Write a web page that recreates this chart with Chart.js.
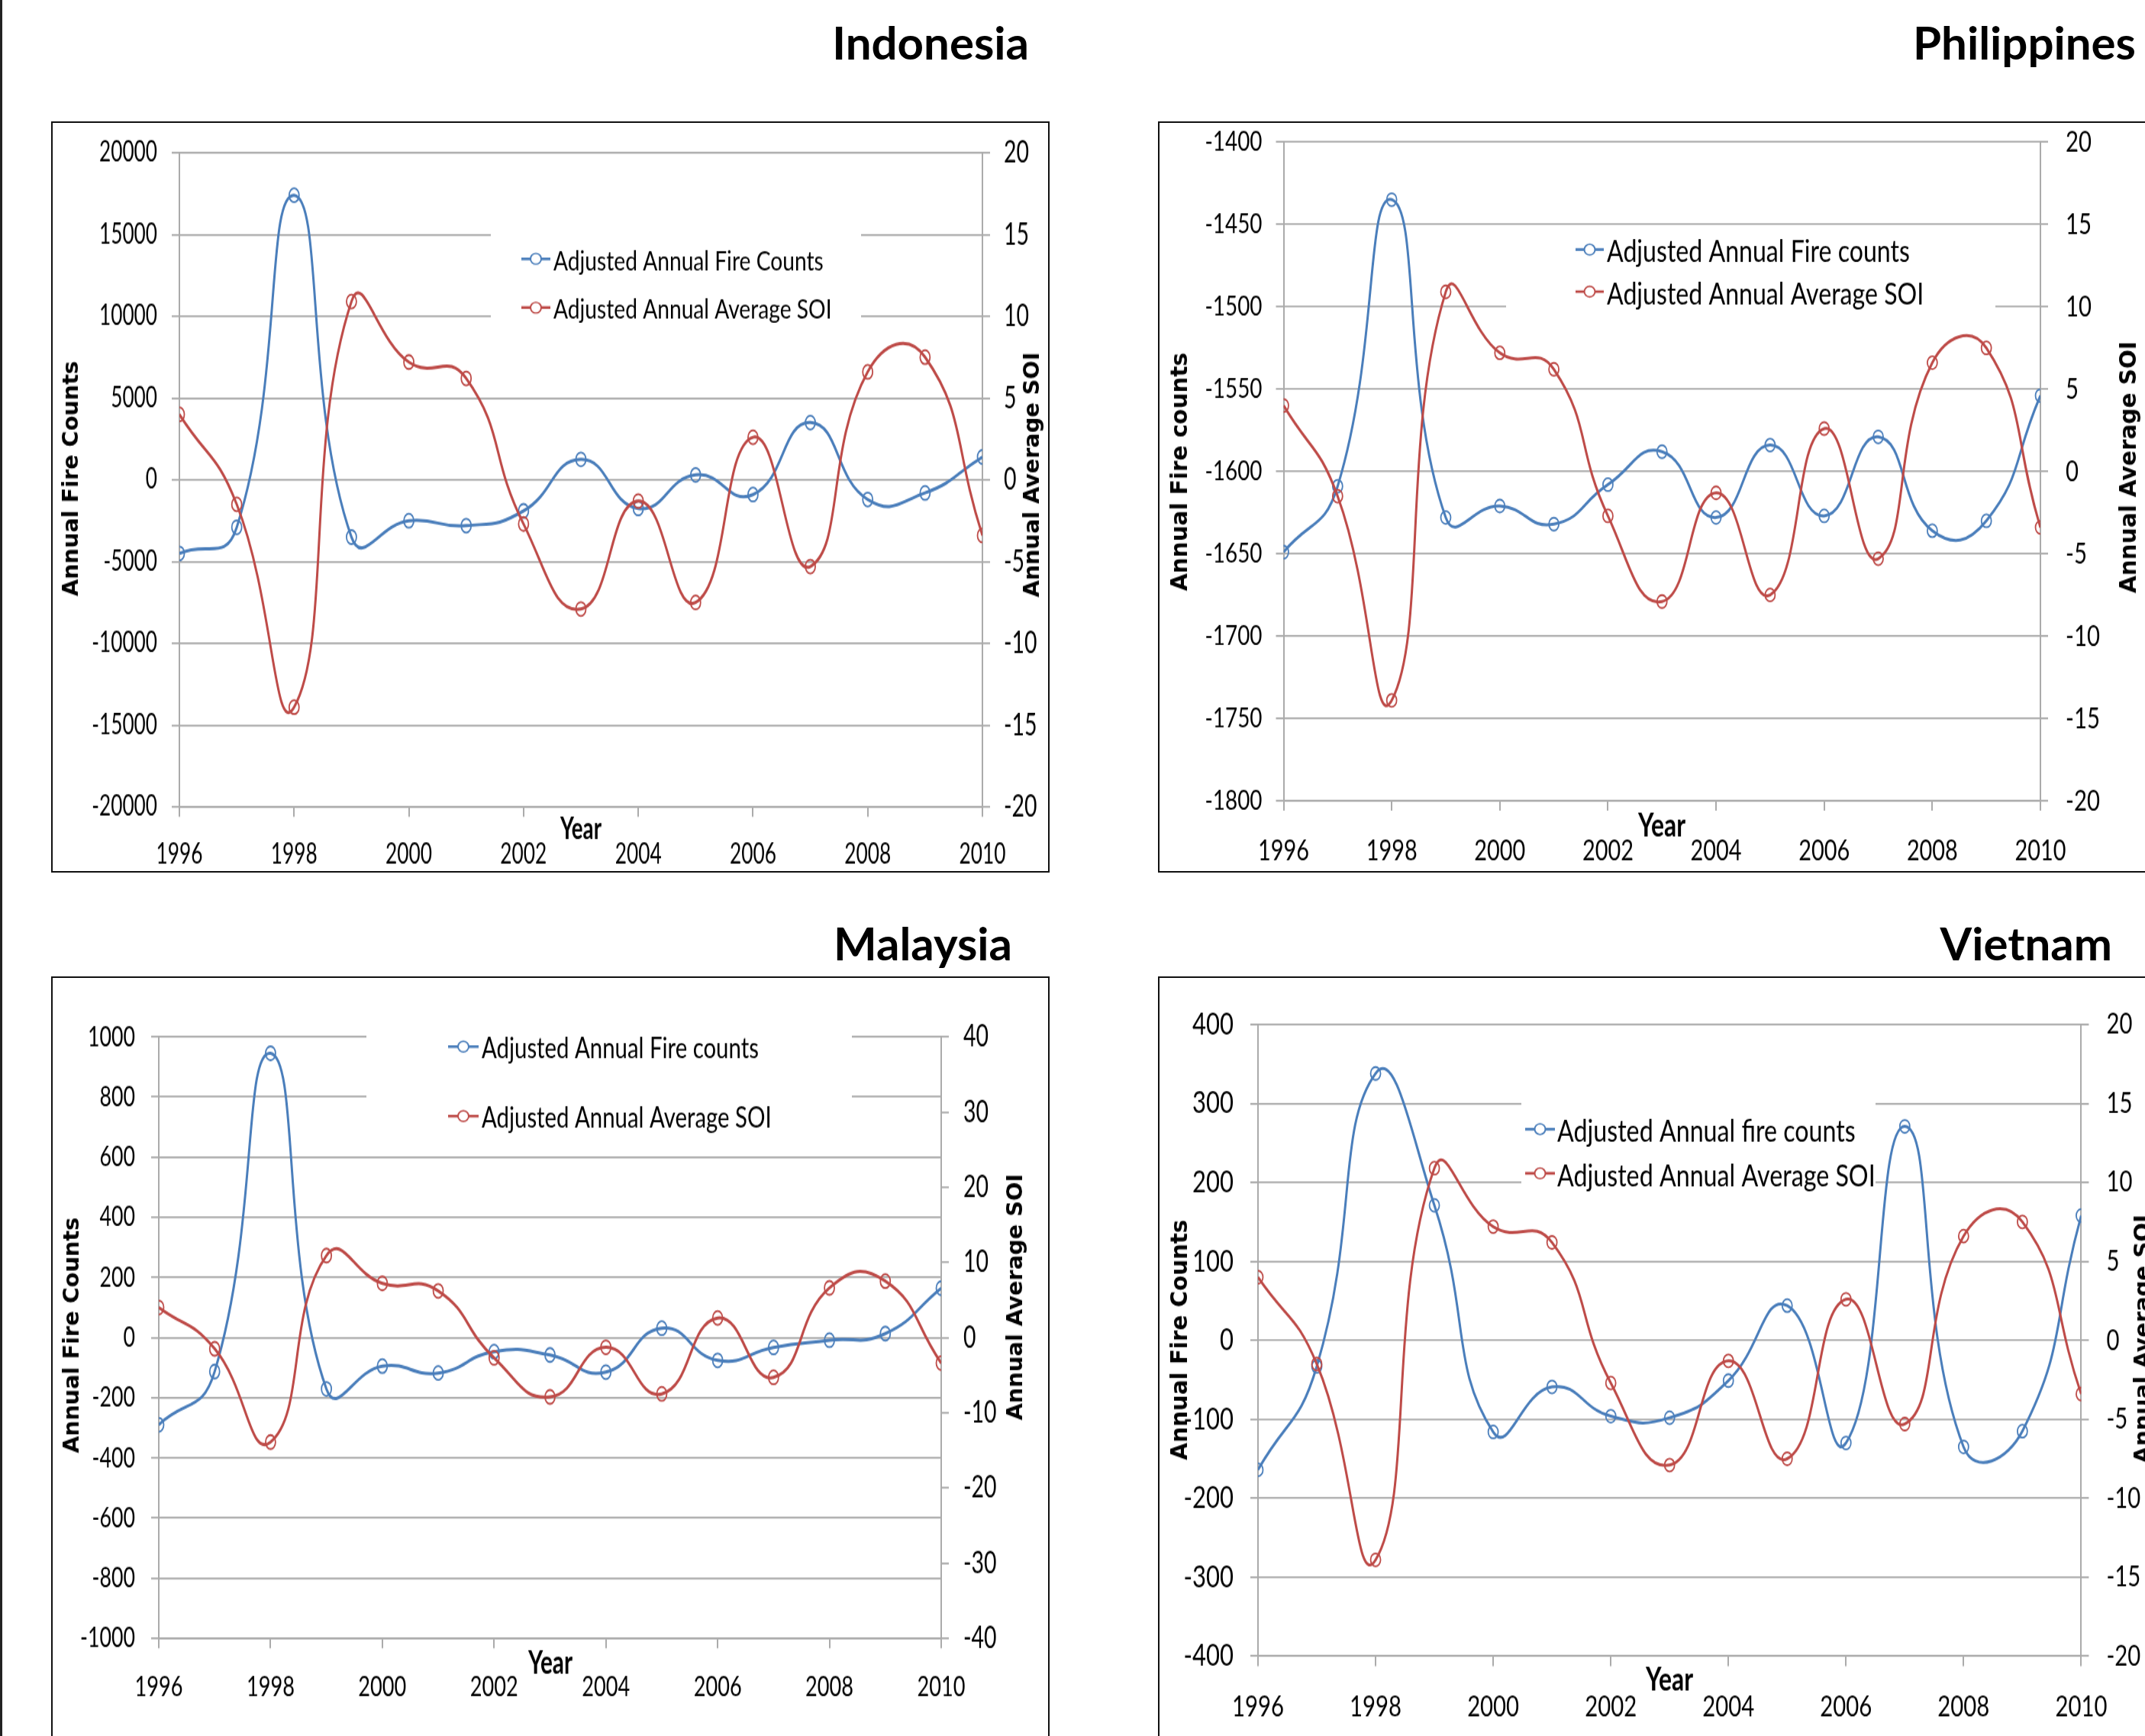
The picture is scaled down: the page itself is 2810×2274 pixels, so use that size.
<!DOCTYPE html>
<html>
<head>
<meta charset="utf-8">
<script src="https://cdn.jsdelivr.net/npm/chart.js@4.4.1/dist/chart.umd.min.js"></script>
<style>
  html, body { margin: 0; padding: 0; background: #fff; }
  body { width: 2810px; height: 2274px; overflow: hidden; position: relative; }
  .edge { position: absolute; left: 0; top: 0; width: 3px; height: 2274px; background: #222; }
  .title { position: absolute; font-family: Lato, "Open Sans", sans-serif; font-weight: bold;
           font-size: 60px; line-height: 1; color: #000; white-space: nowrap; }
  .box { position: absolute; border: 2px solid #111; box-sizing: border-box; background: #fff; overflow: hidden; }
  .box canvas { position: absolute; left: 0; top: 0; transform-origin: 0 0; }
</style>
</head>
<body>
<div class="edge"></div>

<div class="title" style="right:1462px; top:25px;">Indonesia</div>
<div class="title" style="right:12px; top:25px;">Philippines</div>
<div class="title" style="right:1484px; top:1205px;">Malaysia</div>
<div class="title" style="right:43px; top:1205px;">Vietnam</div>

<div class="box" style="left:67px; top:159px; width:1308px; height:984px;"><canvas id="indonesia"></canvas></div>
<div class="box" style="left:1517px; top:159px; width:1400px; height:984px;"><canvas id="philippines"></canvas></div>
<div class="box" style="left:67px; top:1279px; width:1308px; height:1000px;"><canvas id="malaysia"></canvas></div>
<div class="box" style="left:1517px; top:1279px; width:1400px; height:1000px;"><canvas id="vietnam"></canvas></div>

<script>
// ---- data ----
const years = [1996, 1997, 1998, 1999, 2000, 2001, 2002, 2003, 2004, 2005, 2006, 2007, 2008, 2009, 2010];

// same SOI series is plotted on every panel (right axis)
const soi = [4.0, -1.5, -13.9, 10.9, 7.2, 6.2, -2.7, -7.9, -1.3, -7.5, 2.6, -5.3, 6.6, 7.5, -3.4];

const indonesiaFire   = [-4500, -2900, 17400, -3500, -2500, -2800, -1900, 1250, -1750, 300, -900, 3500, -1200, -800, 1400];
const philippinesFire = [-1649, -1609, -1435, -1628, -1621, -1632, -1608, -1588, -1628, -1584, -1627, -1579, -1636, -1630, -1554];
const malaysiaFire    = [-290, -113, 945, -171, -95, -118, -47, -58, -115, 31, -76, -33, -9, 13, 164];
const vietnamFire     = [-164, -33, 338, 171, -116, -59, -96, -98, -51, 44, -130, 271, -135, -115, 158];

// axis ranges: [min, max, step]
const yearTicks        = [1996, 2010, 2];
const indonesiaAxis    = [-20000, 20000, 5000];
const philippinesAxis  = [-1800, -1400, 50];
const malaysiaAxis     = [-1000, 1000, 200];
const vietnamAxis      = [-400, 400, 100];
const soiAxis          = [-20, 20, 5];
const malaysiaSoiAxis  = [-40, 40, 10];

const FIRE_BLUE = '#4A7EBB';
const SOI_RED = '#BE4B48';
const GRID = '#ababab';
const FONT = 'Lato, "Open Sans", sans-serif';
const HEAVY = '"DejaVu Sans", Verdana, sans-serif';

const pairs = arr => years.map((x, i) => ({ x: x, y: arr[i] }));

// font size that makes `text` come out `width` px wide
const measurer = document.createElement('canvas').getContext('2d');
function fitSize(text, family, weight, width) {
  measurer.font = weight + ' 100px ' + family;
  return 100 * width / measurer.measureText(text).width;
}

// The source picture is stretched vertically; each canvas is drawn short and scaled up with CSS.
// Extra text (legend, "Year", axis titles) is drawn in page pixels inside that stretched canvas.
function decor(p) {
  const ox = p.origin[0], oy = p.origin[1], k = p.stretch;
  return {
    id: 'decor',
    afterDatasetsDraw(chart) {
      const ctx = chart.ctx;
      ctx.save();
      ctx.scale(1, 1 / k);
      ctx.translate(-ox, -oy);

      const L = p.legendBox;
      ctx.fillStyle = '#fff';
      ctx.fillRect(L.x0, L.y0, L.x1 - L.x0, L.y1 - L.y0);
      const ls = fitSize(p.legend[0], FONT, 'normal', L.textWidth);
      const baseOff = 0.5 * 0.72 * ls * L.stretch + 2;
      ctx.font = ls + 'px ' + FONT;
      ctx.textAlign = 'left';
      ctx.textBaseline = 'alphabetic';
      [[FIRE_BLUE, p.legend[0], L.rows[0]], [SOI_RED, p.legend[1], L.rows[1]]].forEach(([col, text, y]) => {
        ctx.strokeStyle = col;
        ctx.lineWidth = 3.5;
        ctx.beginPath();
        ctx.moveTo(L.lx0, y);
        ctx.lineTo(L.lx1, y);
        ctx.stroke();
        ctx.lineWidth = 2;
        ctx.fillStyle = '#fff';
        ctx.beginPath();
        ctx.arc((L.lx0 + L.lx1) / 2, y, 7, 0, Math.PI * 2);
        ctx.fill();
        ctx.stroke();
        ctx.fillStyle = '#000';
        ctx.save();
        ctx.translate(L.tx, y + baseOff);
        ctx.scale(1, L.stretch);
        ctx.fillText(text, 0, 0);
        ctx.restore();
      });

      const ys = fitSize('Year', FONT, 'bold', p.year[2]);
      ctx.save();
      ctx.translate(p.year[0], p.year[1]);
      ctx.scale(1, k);
      ctx.font = 'bold ' + ys + 'px ' + FONT;
      ctx.textAlign = 'center';
      ctx.fillStyle = '#000';
      ctx.fillText('Year', 0, 0);
      ctx.restore();

      [[p.leftTitle, p.fireTitle], [p.rightTitle, 'Annual Average SOI']].forEach(([t, text]) => {
        const s = fitSize(text, HEAVY, 'bold', t[2]);
        ctx.save();
        ctx.translate(t[0], t[1]);
        ctx.rotate(-Math.PI / 2);
        ctx.font = 'bold ' + s + 'px ' + HEAVY;
        ctx.textAlign = 'center';
        ctx.textBaseline = 'middle';
        ctx.fillStyle = '#000';
        ctx.fillText(text, 0, 0);
        ctx.restore();
      });
      ctx.restore();
    }
  };
}

function makeChart(p) {
  const ox = p.origin[0], oy = p.origin[1], k = p.stretch;
  const W = p.size[0], H = Math.round(p.size[1] / k);
  const A = { l: p.area.l - ox, r: p.area.r - ox, t: (p.area.t - oy) / k, b: (p.area.b - oy) / k };
  const canvas = document.getElementById(p.id);
  canvas.width = W;
  canvas.height = H;
  canvas.style.transform = 'scaleY(' + k + ')';

  const xSize = fitSize(p.xLabel[0], FONT, 'normal', p.xLabel[1]);
  const ySize = fitSize(p.yLabel[0], FONT, 'normal', p.yLabel[1]);
  const y1Size = fitSize(p.y1Label[0], FONT, 'normal', p.y1Label[1]);
  const xTick = 13 / k;
  const xPad = (p.xLabelCenter - p.area.b) / k - xTick - 0.6 * xSize;

  // y scales: fixed width, and no extra top/bottom padding so the plot area lands where it should
  const fixWidth = w => s => { s.width = w; s.paddingTop = 0; s.paddingBottom = 0; };

  const lineStyle = col => ({
    borderColor: col, borderWidth: 3, tension: 0.5, fill: false,
    pointStyle: 'circle', pointRadius: 6.5, pointBorderWidth: 1.8,
    pointBorderColor: col, pointBackgroundColor: 'rgba(255,255,255,0)'
  });

  new Chart(canvas, {
    type: 'line',
    data: {
      datasets: [
        Object.assign({ label: p.legend[0], data: pairs(p.fire), yAxisID: 'y', order: 1 }, lineStyle(FIRE_BLUE)),
        Object.assign({ label: p.legend[1], data: pairs(soi), yAxisID: 'y1', order: 0 }, lineStyle(SOI_RED))
      ]
    },
    options: {
      responsive: false,
      animation: false,
      devicePixelRatio: 1,
      layout: { padding: { top: A.t, left: 0, right: 0, bottom: 0 } },
      plugins: { legend: { display: false }, tooltip: { enabled: false } },
      scales: {
        x: {
          type: 'linear', position: 'bottom',
          min: yearTicks[0], max: yearTicks[1],
          ticks: { stepSize: yearTicks[2], callback: v => String(v), color: '#000',
                   font: { family: FONT, size: xSize }, padding: xPad, maxRotation: 0, autoSkip: false },
          grid: { drawOnChartArea: false, drawTicks: true, tickLength: xTick, color: GRID, lineWidth: 2 },
          border: { display: true, color: GRID, width: 2.4 / k },
          afterFit: s => { s.height = H - A.b; }
        },
        y: {
          position: 'left',
          min: p.fireAxis[0], max: p.fireAxis[1],
          ticks: { stepSize: p.fireAxis[2], callback: v => String(v), color: '#000',
                   font: { family: FONT, size: ySize }, padding: p.yPad[0] },
          grid: { color: GRID, lineWidth: 2.4 / k, tickLength: 10 },
          border: { display: true, color: GRID, width: 2 },
          afterFit: fixWidth(A.l)
        },
        y1: {
          position: 'right',
          min: p.soiAxis[0], max: p.soiAxis[1],
          ticks: { stepSize: p.soiAxis[2], callback: v => String(v), color: '#000',
                   font: { family: FONT, size: y1Size }, padding: p.yPad[1] },
          grid: { drawOnChartArea: false, drawTicks: true, color: GRID, lineWidth: 2.4 / k, tickLength: 10 },
          border: { display: true, color: GRID, width: 2 },
          afterFit: fixWidth(W - A.r)
        }
      }
    },
    plugins: [decor(p)]
  });
}

// page-pixel layout of each panel
makeChart({
  id: 'indonesia', origin: [69, 161], size: [1304, 980], stretch: 1.4,
  area: { l: 235, r: 1287, t: 200, b: 1057 },
  fire: indonesiaFire, fireAxis: indonesiaAxis, soiAxis: soiAxis,
  fireTitle: 'Annual Fire Counts',
  legend: ['Adjusted Annual Fire Counts', 'Adjusted Annual Average SOI'],
  legendBox: { x0: 643, x1: 1128, y0: 301, y1: 419, rows: [339, 403], lx0: 683, lx1: 721, tx: 725,
               textWidth: 354, stretch: 1.25 },
  xLabel: ['1996', 61], yLabel: ['20000', 76], y1Label: ['20', 33], xLabelCenter: 1120, yPad: [19, 18],
  year: [761, 1099, 54], leftTitle: [95, 627, 308], rightTitle: [1354, 622, 321]
});

makeChart({
  id: 'philippines', origin: [1519, 161], size: [1396, 980], stretch: 1.3,
  area: { l: 1681.5, r: 2673, t: 186, b: 1049 },
  fire: philippinesFire, fireAxis: philippinesAxis, soiAxis: soiAxis,
  fireTitle: 'Annual Fire counts',
  legend: ['Adjusted Annual Fire counts', 'Adjusted Annual Average SOI'],
  legendBox: { x0: 1973, x1: 2614, y0: 298, y1: 412, rows: [327, 382], lx0: 2064, lx1: 2101, tx: 2105,
               textWidth: 397, stretch: 1.25 },
  xLabel: ['1996', 67], yLabel: ['-1400', 75], y1Label: ['20', 34], xLabelCenter: 1115, yPad: [18, 23],
  year: [2177, 1096, 62], leftTitle: [1547, 618, 312], rightTitle: [2790, 612, 330]
});

makeChart({
  id: 'malaysia', origin: [69, 1281], size: [1304, 993], stretch: 1.4,
  area: { l: 208, r: 1233, t: 1358, b: 2146 },
  fire: malaysiaFire, fireAxis: malaysiaAxis, soiAxis: malaysiaSoiAxis,
  fireTitle: 'Annual Fire Counts',
  legend: ['Adjusted Annual Fire counts', 'Adjusted Annual Average SOI'],
  legendBox: { x0: 480, x1: 1116, y0: 1340, y1: 1492, rows: [1371, 1462], lx0: 587, lx1: 627, tx: 631,
               textWidth: 363, stretch: 1.25 },
  xLabel: ['1996', 63], yLabel: ['1000', 62], y1Label: ['40', 33], xLabelCenter: 2210, yPad: [21, 19],
  year: [721, 2193, 58], leftTitle: [96, 1749, 309], rightTitle: [1332, 1699, 323]
});

makeChart({
  id: 'vietnam', origin: [1519, 1281], size: [1396, 993], stretch: 1.3,
  area: { l: 1648, r: 2726.4, t: 1342, b: 2169.4 },
  fire: vietnamFire, fireAxis: vietnamAxis, soiAxis: soiAxis,
  fireTitle: 'Annual Fire Counts',
  legend: ['Adjusted Annual fire counts', 'Adjusted Annual Average SOI'],
  legendBox: { x0: 1993, x1: 2457, y0: 1440, y1: 1557, rows: [1479, 1537], lx0: 1998, lx1: 2037, tx: 2040,
               textWidth: 391, stretch: 1.25 },
  xLabel: ['1996', 68], yLabel: ['400', 54], y1Label: ['20', 34], xLabelCenter: 2236, yPad: [22, 23],
  year: [2187, 2215, 62], leftTitle: [1547, 1755, 315], rightTitle: [2808, 1754, 326]
});
</script>
</body>
</html>
